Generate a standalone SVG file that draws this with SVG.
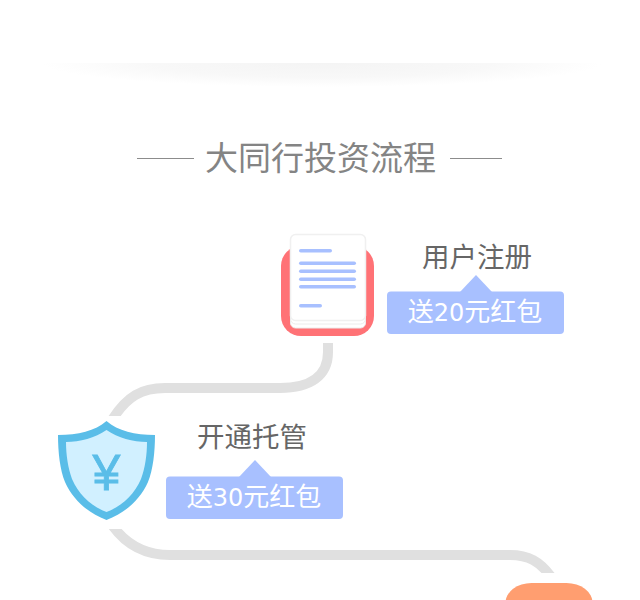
<svg xmlns="http://www.w3.org/2000/svg" width="640" height="600" viewBox="0 0 640 600">
<style>
text{font-family:"Noto Sans CJK SC","Noto Sans",sans-serif}
.title{font-size:33px;fill:#848484;text-anchor:middle}
.label{font-size:27.500px;fill:#666;text-anchor:middle}
.badge{font-size:26px;fill:#fff;text-anchor:middle}
.num{font-family:"DejaVu Sans",sans-serif;font-size:24px}
.bg{fill:#a8c0ff}
.conn{fill:none;stroke:#e0e0e0;stroke-width:10}
.bar{fill:#a8c0ff}
</style>
<defs>
<radialGradient id="sh" cx=".5" cy=".5" r=".5">
<stop offset="0" stop-color="#f4f4f4"/>
<stop offset=".6" stop-color="#f8f8f8"/>
<stop offset="1" stop-color="#fff"/>
</radialGradient>
<clipPath id="shc"><rect x="0" y="63" width="640" height="40"/></clipPath>
<clipPath id="cc"><path d="M0 343H640V573H0ZM0 416V529H640V416Z" clip-rule="evenodd"/></clipPath>
</defs>
<rect width="640" height="600" fill="#fff"/>
<ellipse cx="322" cy="63" rx="280" ry="24" fill="url(#sh)" clip-path="url(#shc)"/>
<g id="title">
<path d="M137 158.500H194M450 158.500H502" stroke="#8c8c8c" stroke-width="1"/>
<text class="title" x="320.500" y="170">大同行投资流程</text>
</g>
<g id="connectors" clip-path="url(#cc)">
<path class="conn" d="M328 340V352C328 376 310 388 280 388H165C142 388 127 396 112 420"/>
<path class="conn" d="M110 522C125 545 145 555 170 555H510C528 555 540 561 552 578"/>
</g>
<g id="node-register">
<rect x="281" y="246" width="93" height="90" rx="20" fill="#ff7276"/>
<rect x="290.500" y="240" width="75" height="88" rx="5" fill="#fff" stroke="#ececec"/>
<rect x="290.500" y="237" width="75" height="87" rx="5" fill="#fff" stroke="#ececec"/>
<rect x="290.500" y="234.500" width="75" height="86" rx="5" fill="#fff" stroke="#f0f0f0" stroke-width="1.500"/>
<rect class="bar" x="299" y="249" width="33" height="3.500" rx="1.750"/>
<rect class="bar" x="299" y="261.500" width="57" height="3.500" rx="1.750"/>
<rect class="bar" x="299" y="269.500" width="57" height="3.500" rx="1.750"/>
<rect class="bar" x="299" y="277.500" width="57" height="3.500" rx="1.750"/>
<rect class="bar" x="299" y="285" width="57" height="3.500" rx="1.750"/>
<rect class="bar" x="299" y="304" width="23" height="3.500" rx="1.750"/>
<text class="label" x="477" y="267">用户注册</text>
<path class="bg" d="M460 292L476 275L492 292Z"/>
<rect class="bg" x="387" y="291.500" width="177" height="42.500" rx="4"/>
<text class="badge" x="475" y="321">送<tspan class="num">20</tspan>元红包</text>
</g>
<g id="node-custody">
<path d="M106.500 421C95 431 78 435 58 435C58 452 60 470 65 482C73 500 88 513 106.500 520C125 513 140 500 148 482C153 470 155 452 155 435C135 435 118 431 106.500 421Z" fill="#5abde8"/>
<path d="M106.500 430C95 438 80 442 66 442C66 455 68 468 72 479C79 495 91 506 106.500 512C122 506 134 495 141 479C145 468 147 455 147 442C133 442 118 438 106.500 430Z" fill="#d1f0ff"/>
<text x="106.500" y="490" text-anchor="middle" fill="#5abde8" stroke="#5abde8" stroke-width=".8" style="font-family:'Liberation Sans',sans-serif;font-size:50px">¥</text>
<text class="label" x="252" y="447">开通托管</text>
<path class="bg" d="M239 477L255 460L271 477Z"/>
<rect class="bg" x="166" y="476.500" width="177" height="42.500" rx="4"/>
<text class="badge" x="254" y="506">送<tspan class="num">30</tspan>元红包</text>
</g>
<g id="node-next">
<rect x="505.500" y="583" width="87" height="40" rx="26" fill="#ff9e70"/>
</g>
</svg>
